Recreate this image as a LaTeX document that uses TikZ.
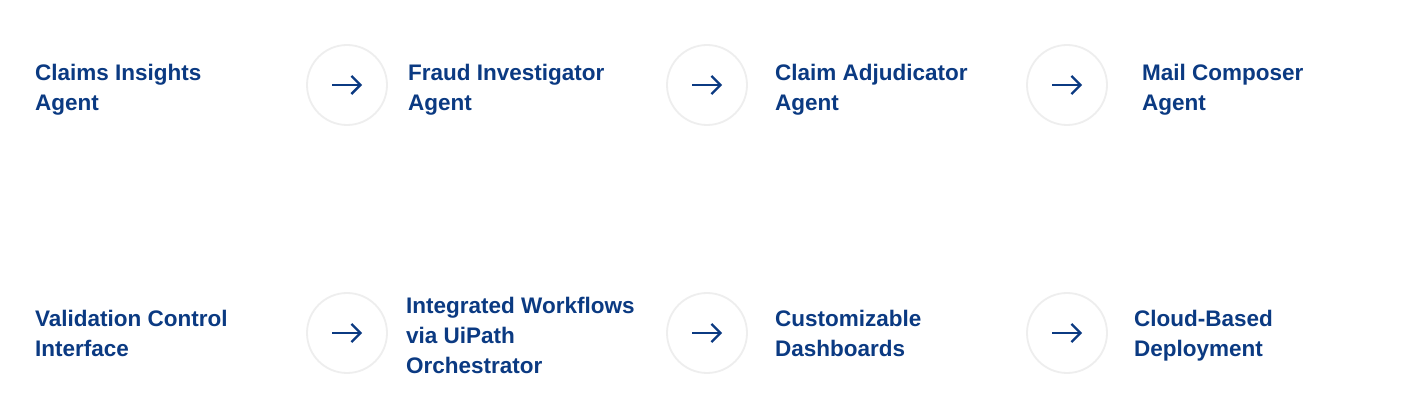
\documentclass[tikz,border=0pt]{standalone}
\usepackage{fontspec}
\setmainfont{Liberation Sans}
\usetikzlibrary{arrows.meta,positioning}
\definecolor{navy}{HTML}{0B3A82}
\definecolor{ring}{HTML}{EEEEEE}
\tikzset{
  label/.style={anchor=west,align=left,text=navy,font=\fontsize{22.5}{30}\selectfont\bfseries,inner sep=0pt},
  hop/.style={circle,draw=ring,line width=1.8pt,minimum size=80pt,inner sep=0pt},
  go/.style={draw=navy,line width=2.3pt,-{Straight Barb[length=9pt,width=18pt,line width=2.3pt]}}
}
\begin{document}
\begin{tikzpicture}[x=1pt,y=-1pt]
  \useasboundingbox[fill=white] (0,0) rectangle (1416,419);

  \node[label] (a1) at (35,90)   {Claims Insights\\Agent};
  \node[hop]   (c1) at (347,85)  {};
  \node[label] (a2) at (408,90)  {Fraud Investigator\\Agent};
  \node[hop]   (c2) at (707,85)  {};
  \node[label] (a3) at (775,90)  {Claim Adjudicator\\Agent};
  \node[hop]   (c3) at (1067,85) {};
  \node[label] (a4) at (1142,90) {Mail Composer\\Agent};

  \node[label] (b1) at (35,333)   {Validation Control\\Interface};
  \node[hop]   (d1) at (347,333)  {};
  \node[label] (b2) at (406,335)  {Integrated Workflows\\via UiPath\\Orchestrator};
  \node[hop]   (d2) at (707,333)  {};
  \node[label] (b3) at (775,333)  {Customizable\\Dashboards};
  \node[hop]   (d3) at (1067,333) {};
  \node[label] (b4) at (1134,336) {Cloud-Based\\Deployment};

  \foreach \c in {c1,c2,c3,d1,d2,d3}
    \draw[go] ([xshift=-15pt]\c.center) -- ([xshift=15pt]\c.center);
\end{tikzpicture}
\end{document}
